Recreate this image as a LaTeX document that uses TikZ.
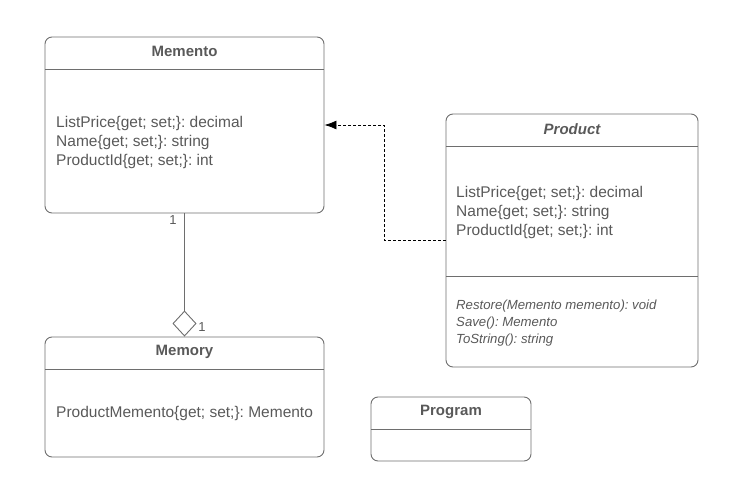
\documentclass[tikz,border=0pt]{standalone}
\usepackage{fontspec}
\setmainfont{Liberation Sans}
\usetikzlibrary{arrows.meta}
\definecolor{txt}{HTML}{595959}
\definecolor{edge}{HTML}{6E6E6E}
\frenchspacing
\begin{document}
\begin{tikzpicture}[x=1pt,y=-1pt,
  classbox/.style={draw=edge,line width=0.9pt,rounded corners=7pt,inner sep=0pt},
  divider/.style={draw=edge,line width=0.9pt},
  title/.style={font=\fontsize{15}{18}\selectfont\bfseries,text=txt,anchor=center},
  attr/.style={font=\fontsize{15.5}{19}\selectfont,text=txt,align=left,anchor=west,inner sep=0pt},
  meth/.style={font=\fontsize{13.2}{17}\selectfont\itshape,text=txt,align=left,anchor=west,inner sep=0pt},
  mult/.style={font=\fontsize{13}{15}\selectfont,text=txt,inner sep=0pt}]
\useasboundingbox (0,0) rectangle (732,490);
% Memento
\node[classbox,minimum width=279pt,minimum height=176pt] (memento) at (184.5,125) {};
\draw[divider] (45,69) -- (324,69);
\node[title] (mementoT) at (184.5,51) {Memento};
\node[attr] (mementoA) at (56,142) {ListPrice\{get; set;\}: decimal\\Name\{get; set;\}: string\\ProductId\{get; set;\}: int};
% Product
\node[classbox,minimum width=252pt,minimum height=253pt] (product) at (572,240.5) {};
\draw[divider] (446,146) -- (698,146);
\draw[divider] (446,276) -- (698,276);
\node[title,font=\fontsize{15}{18}\selectfont\bfseries\itshape] (productT) at (572,129) {Product};
\node[attr] (productA) at (456,212.5) {ListPrice\{get; set;\}: decimal\\Name\{get; set;\}: string\\ProductId\{get; set;\}: int};
\node[meth] (productM) at (456,323) {Restore(Memento memento): void\\Save(): Memento\\ToString(): string};
% Memory
\node[classbox,minimum width=279pt,minimum height=120pt] (memory) at (184.5,397) {};
\draw[divider] (45,369) -- (324,369);
\node[title] (memoryT) at (184.5,352) {Memory};
\node[attr] (memoryA) at (56,413) {ProductMemento\{get; set;\}: Memento};
% Program
\node[classbox,minimum width=160pt,minimum height=64pt] (program) at (451,429) {};
\draw[divider] (371,429) -- (531,429);
\node[title] (programT) at (451,412) {Program};
% dependency
\draw[black,line width=0.8pt,dash pattern=on 3pt off 2pt,-{Latex[length=12pt,width=9pt]}]
  (product.west) -- ++(-61,0) |- (memento.east);
% aggregation
\draw[edge,line width=0.9pt,-{Diamond[open,fill=white,length=26pt,width=24pt]}]
  (memento.south) -- (memory.north);
\node[mult] (m1) at (173,220) {1};
\node[mult] (m2) at (202,327) {1};
\end{tikzpicture}
\end{document}
